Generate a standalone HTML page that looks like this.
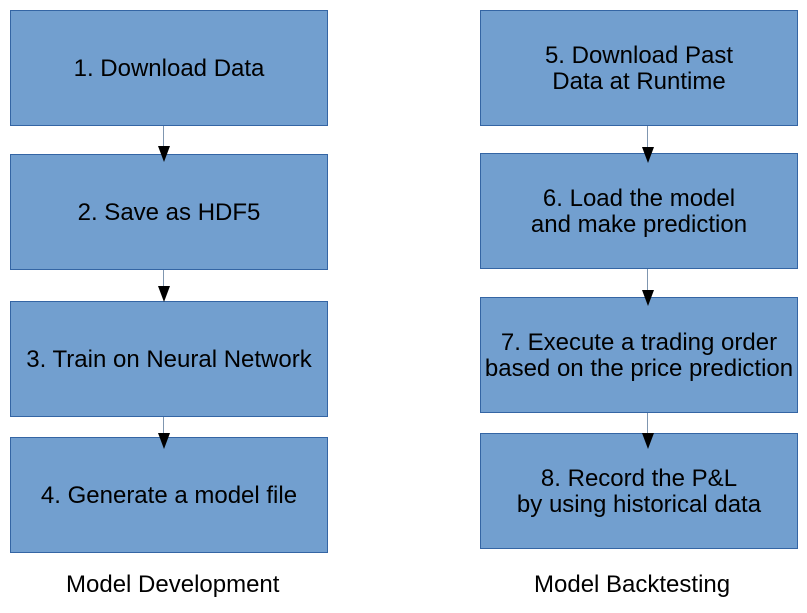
<!DOCTYPE html>
<html><head><meta charset="utf-8"><style>
html,body{margin:0;padding:0;background:#fff;width:807px;height:613px;overflow:hidden;position:relative;font-family:"Liberation Sans",sans-serif;}
.b{position:absolute;background:#729fcf;border:1px solid #3465a4;box-sizing:border-box;display:flex;align-items:center;justify-content:center;text-align:center;color:#000;font-size:24px;line-height:26px;white-space:nowrap;padding-top:2px;}
.l{left:10px;width:318px;}
.r{left:480px;width:318px;}
.ln{position:absolute;width:1px;background:#7f96b0;}
.ah{position:absolute;width:0;height:0;border-left:6px solid transparent;border-right:6px solid transparent;border-top:16px solid #000;}
.cap{position:absolute;font-size:24px;color:#000;}
</style></head><body>
<div class="b l" style="top:10px;height:116px">1. Download Data</div>
<div class="b l" style="top:154px;height:116px">2. Save as HDF5</div>
<div class="b l" style="top:301px;height:116px">3. Train on Neural Network</div>
<div class="b l" style="top:437px;height:116px">4. Generate a model file</div>

<div class="b r" style="top:10px;height:116px">5. Download Past<br>Data at Runtime</div>
<div class="b r" style="top:153px;height:116px">6. Load the model<br>and make prediction</div>
<div class="b r" style="top:297px;height:116px">7. Execute a trading order<br>based on the price prediction</div>
<div class="b r" style="top:433px;height:116px">8. Record the P&amp;L<br>by using historical data</div>

<div class="ln" style="left:163px;top:126px;height:22px"></div><div class="ah" style="left:158px;top:146px"></div>
<div class="ln" style="left:163px;top:270px;height:18px"></div><div class="ah" style="left:158px;top:286px"></div>
<div class="ln" style="left:163px;top:417px;height:18px"></div><div class="ah" style="left:158px;top:433px"></div>

<div class="ln" style="left:647px;top:126px;height:22px"></div><div class="ah" style="left:642px;top:147px"></div>
<div class="ln" style="left:647px;top:269px;height:24px"></div><div class="ah" style="left:642px;top:290px"></div>
<div class="ln" style="left:647px;top:413px;height:22px"></div><div class="ah" style="left:642px;top:433px"></div>

<div class="cap" style="left:66px;top:571px">Model Development</div>
<div class="cap" style="left:534px;top:571px">Model Backtesting</div>
</body></html>
